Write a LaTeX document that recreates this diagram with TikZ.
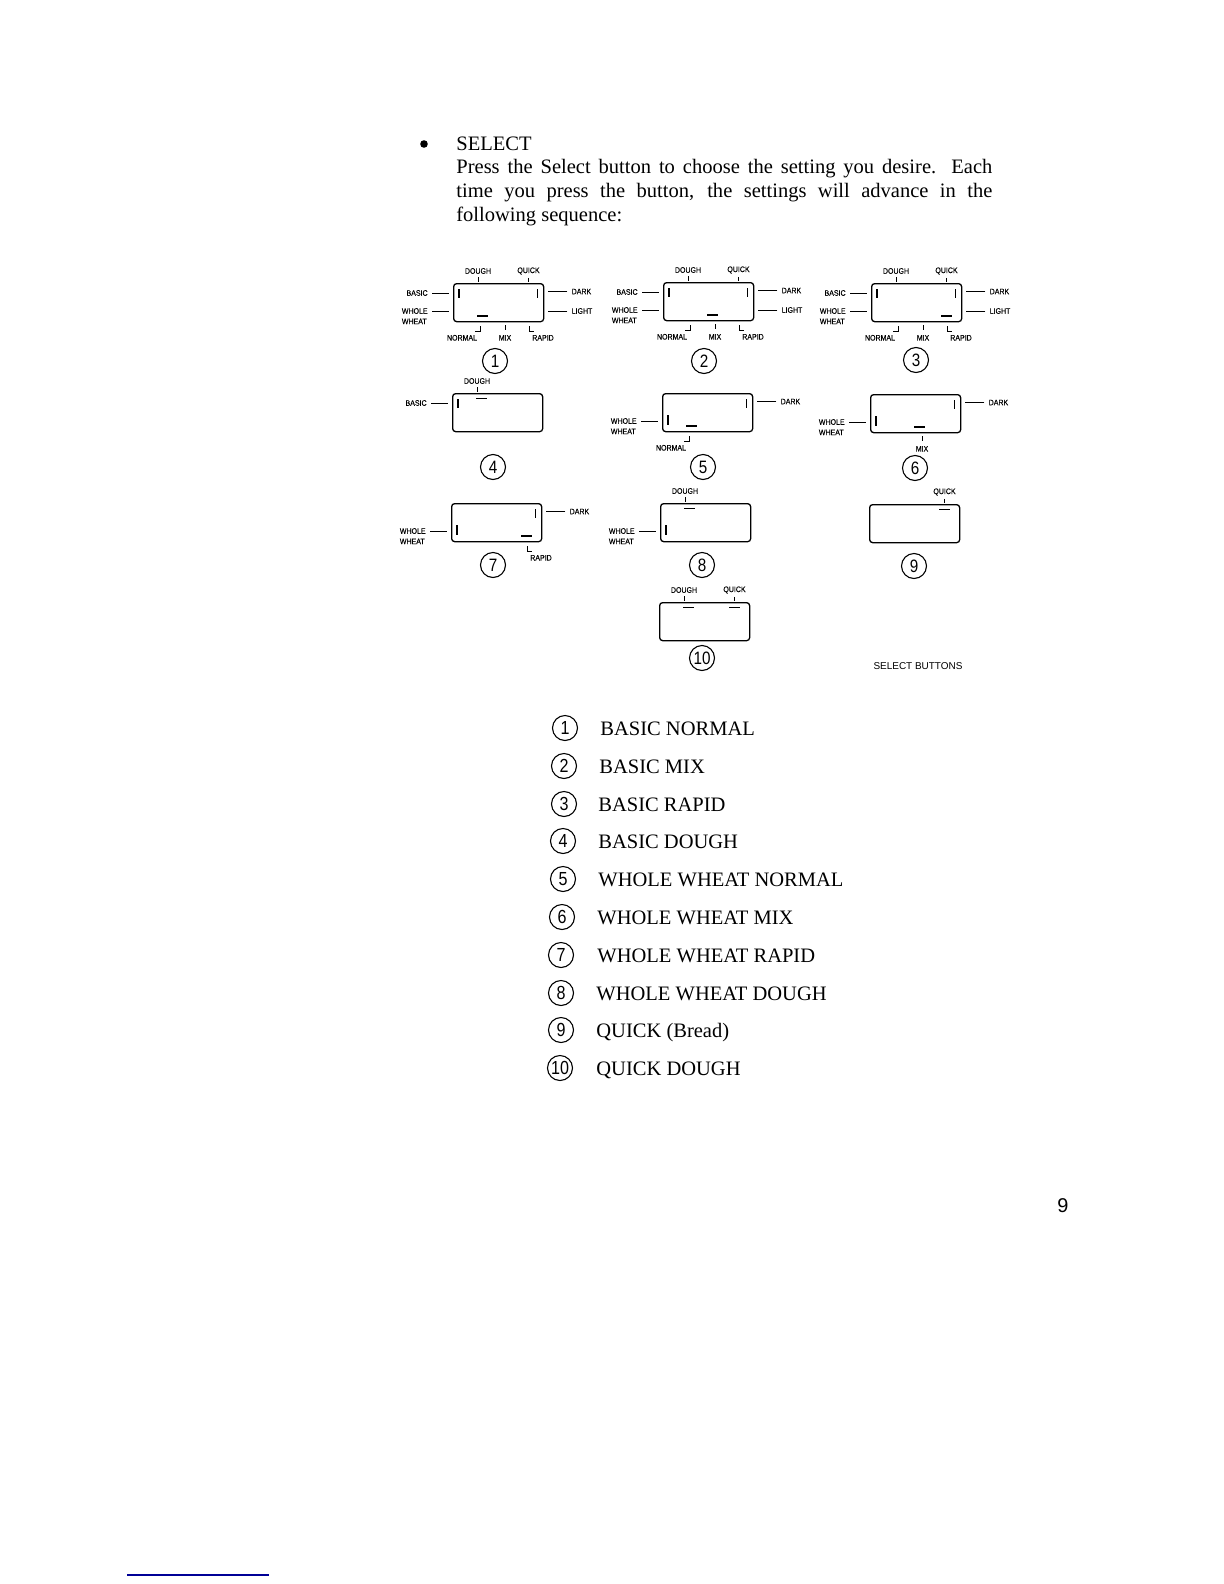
\documentclass[tikz,border=0pt]{standalone}
\usepackage{fontspec}
\setmainfont{Liberation Serif}
\newfontfamily\tagfont{Liberation Sans}
\newfontfamily\narrowfont[FakeStretch=0.88, FakeBold=0.2]{Liberation Sans}
\newfontfamily\digitfont[FakeStretch=0.85]{Liberation Sans}
\definecolor{rulenavy}{RGB}{0,0,150}
\tikzset{
  panel/.style={draw, rounded corners=1.5bp, line width=0.65bp, minimum width=45bp, minimum height=19bp, inner sep=0pt, anchor=north west},
  badge/.style={draw, circle, line width=0.55bp, minimum size=12.5bp, inner sep=0pt, font=\digitfont\fontsize{9}{9}\selectfont},
  tag/.style={inner sep=0pt, font=\narrowfont\fontsize{4}{4}\selectfont},
  lead/.style={line width=0.45bp, shorten <=2bp, shorten >=2bp},
  tick/.style={line width=0.45bp},
  bar/.style={line width=0.6bp},
  entry/.style={inner sep=0pt, anchor=base west, font=\fontsize{10.3}{12}\selectfont},
}
\begin{document}
\begin{tikzpicture}[x=0.5bp, y=-0.5bp]
\useasboundingbox (0,0) rectangle (1224,1584);
\node[circle, fill=black, minimum size=3.8bp, inner sep=0pt] (dot) at (424,144) {};
\node[entry] (heading) at (456,150) {SELECT};
\node[inner sep=0pt, anchor=north west, text width=268bp, align=justify, font=\fontsize{10.3}{12}\selectfont] (intro) at (456,159)
  {Press the Select button to choose the setting you desire. Each\linebreak time you press the button, the settings will advance in the\linebreak following sequence:};
\foreach \n/\x/\y/\cx/\cy in {1/453/283/495/361, 2/663/282/704/361, 3/871/283/916/360, 4/452/393/493/467, 5/662/393/703/467, 6/870/394/915/468, 7/451/503/493/565, 8/660/503/702/565, 9/869/504/914/566, 10/659/602/702/658}
{
  \node[panel] (panel\n) at (\x,\y) {};
  \node[badge] (badge\n) at (\cx,\cy) {\n};
}
\foreach \n in {1,2,3,4,8,10}
{
  \node[tag] (dough\n) at ([shift={(25,-12)}]panel\n.north west) {DOUGH};
  \draw[tick, shorten <=1.5bp, shorten >=0.5bp] (dough\n.south) -- (dough\n.south |- panel\n.north);
}
\foreach \n in {1,2,3,9,10}
{
  \node[tag] (quick\n) at ([shift={(75.5,-12)}]panel\n.north west) {QUICK};
  \draw[tick, shorten <=1.5bp, shorten >=0.5bp] (quick\n.south) -- (quick\n.south |- panel\n.north);
}
\foreach \n in {1,2,3,4}
{
  \node[tag, anchor=east] (basic\n) at ([shift={(-25,10)}]panel\n.north west) {BASIC};
  \draw[lead] (basic\n.east) -- (basic\n.east -| panel\n.west);
  \draw[bar] ([shift={(6,6)}]panel\n.north west) -- ++(0,9);
}
\foreach \n in {1,2,3,5,6,7,8}
{
  \node[tag, anchor=east] (whole\n) at ([shift={(-25,28)}]panel\n.north west) {WHOLE};
  \node[tag, anchor=west] (wheat\n) at ([yshift=-5.2bp]whole\n.west) {WHEAT};
  \draw[lead] (whole\n.east) -- (whole\n.east -| panel\n.west);
}
\foreach \n in {5,6,7,8}
  \draw[bar] ([shift={(6,22)}]panel\n.north west) -- ++(0,10);
\foreach \n in {1,2,3,5,6,7}
{
  \node[tag, anchor=west] (dark\n) at ([shift={(27,8.5)}]panel\n.north east) {DARK};
  \draw[lead] (dark\n.west) -- (dark\n.west -| panel\n.east);
  \draw[bar] ([shift={(-7,6)}]panel\n.north east) -- ++(0,9);
}
\foreach \n in {1,2,3}
{
  \node[tag, anchor=west] (light\n) at ([shift={(27,28)}]panel\n.north east) {LIGHT};
  \draw[lead] (light\n.west) -- (light\n.west -| panel\n.east);
}
\foreach \n in {1,2,3,5}
{
  \node[tag] (normal\n) at ([shift={(9,15.5)}]panel\n.south west) {NORMAL};
  \coordinate (normalmark\n) at ([shift={(27,4)}]panel\n.south west);
  \draw[tick] (normalmark\n) -- ++(0,5) -- ++(-5,0);
}
\foreach \n in {1,2,3,6}
{
  \node[tag] (mix\n) at ([shift={(52,15.5)}]panel\n.south west) {MIX};
  \draw[tick, shorten <=2.5bp, shorten >=1.5bp] (mix\n.north) -- (mix\n.north |- panel\n.south);
}
\foreach \n in {1,2,3,7}
{
  \node[tag] (rapid\n) at ([shift={(90,15.5)}]panel\n.south west) {RAPID};
  \coordinate (rapidmark\n) at ([shift={(76,4)}]panel\n.south west);
  \draw[tick] (rapidmark\n) -- ++(0,5) -- ++(5,0);
}
\foreach \n/\a in {1/24, 2/44, 3/70, 5/24, 6/44, 7/70}
  \draw[bar] ([shift={(\a,33)}]panel\n.north west) -- ++(11,0);
\foreach \n/\a in {4/24, 8/24, 10/24, 9/70, 10/70}
  \draw[bar] ([shift={(\a,5.5)}]panel\n.north west) -- ++(11,0);
\node[inner sep=0pt, font=\tagfont\fontsize{5}{5}\selectfont] (caption) at (918,666) {SELECT BUTTONS};
\foreach \n/\cx/\tx/\y/\txt in {1/565/600/728/BASIC NORMAL, 2/564/599/766/BASIC MIX, 3/564/598/804/BASIC RAPID, 4/563/598/841/BASIC DOUGH, 5/563/598/879/WHOLE WHEAT NORMAL, 6/562/597/917/WHOLE WHEAT MIX, 7/561/597/955/WHOLE WHEAT RAPID, 8/561/596/993/WHOLE WHEAT DOUGH, 9/561/596/1030/QUICK (Bread), 10/560/596/1068/QUICK DOUGH}
{
  \node[badge, font=\digitfont\fontsize{9.5}{9.5}\selectfont] (item\n) at (\cx,\y) {\n};
  \node[entry] (label\n) at (\tx,\y+7) {\txt};
}
\node[inner sep=0pt, font=\tagfont\fontsize{10}{10}\selectfont] (pageno) at (1063,1206) {9};
\coordinate (rulea) at (127,1575);
\coordinate (ruleb) at (269,1575);
\draw[rulenavy, line width=0.75bp] (rulea) -- (ruleb);
\end{tikzpicture}
\end{document}
